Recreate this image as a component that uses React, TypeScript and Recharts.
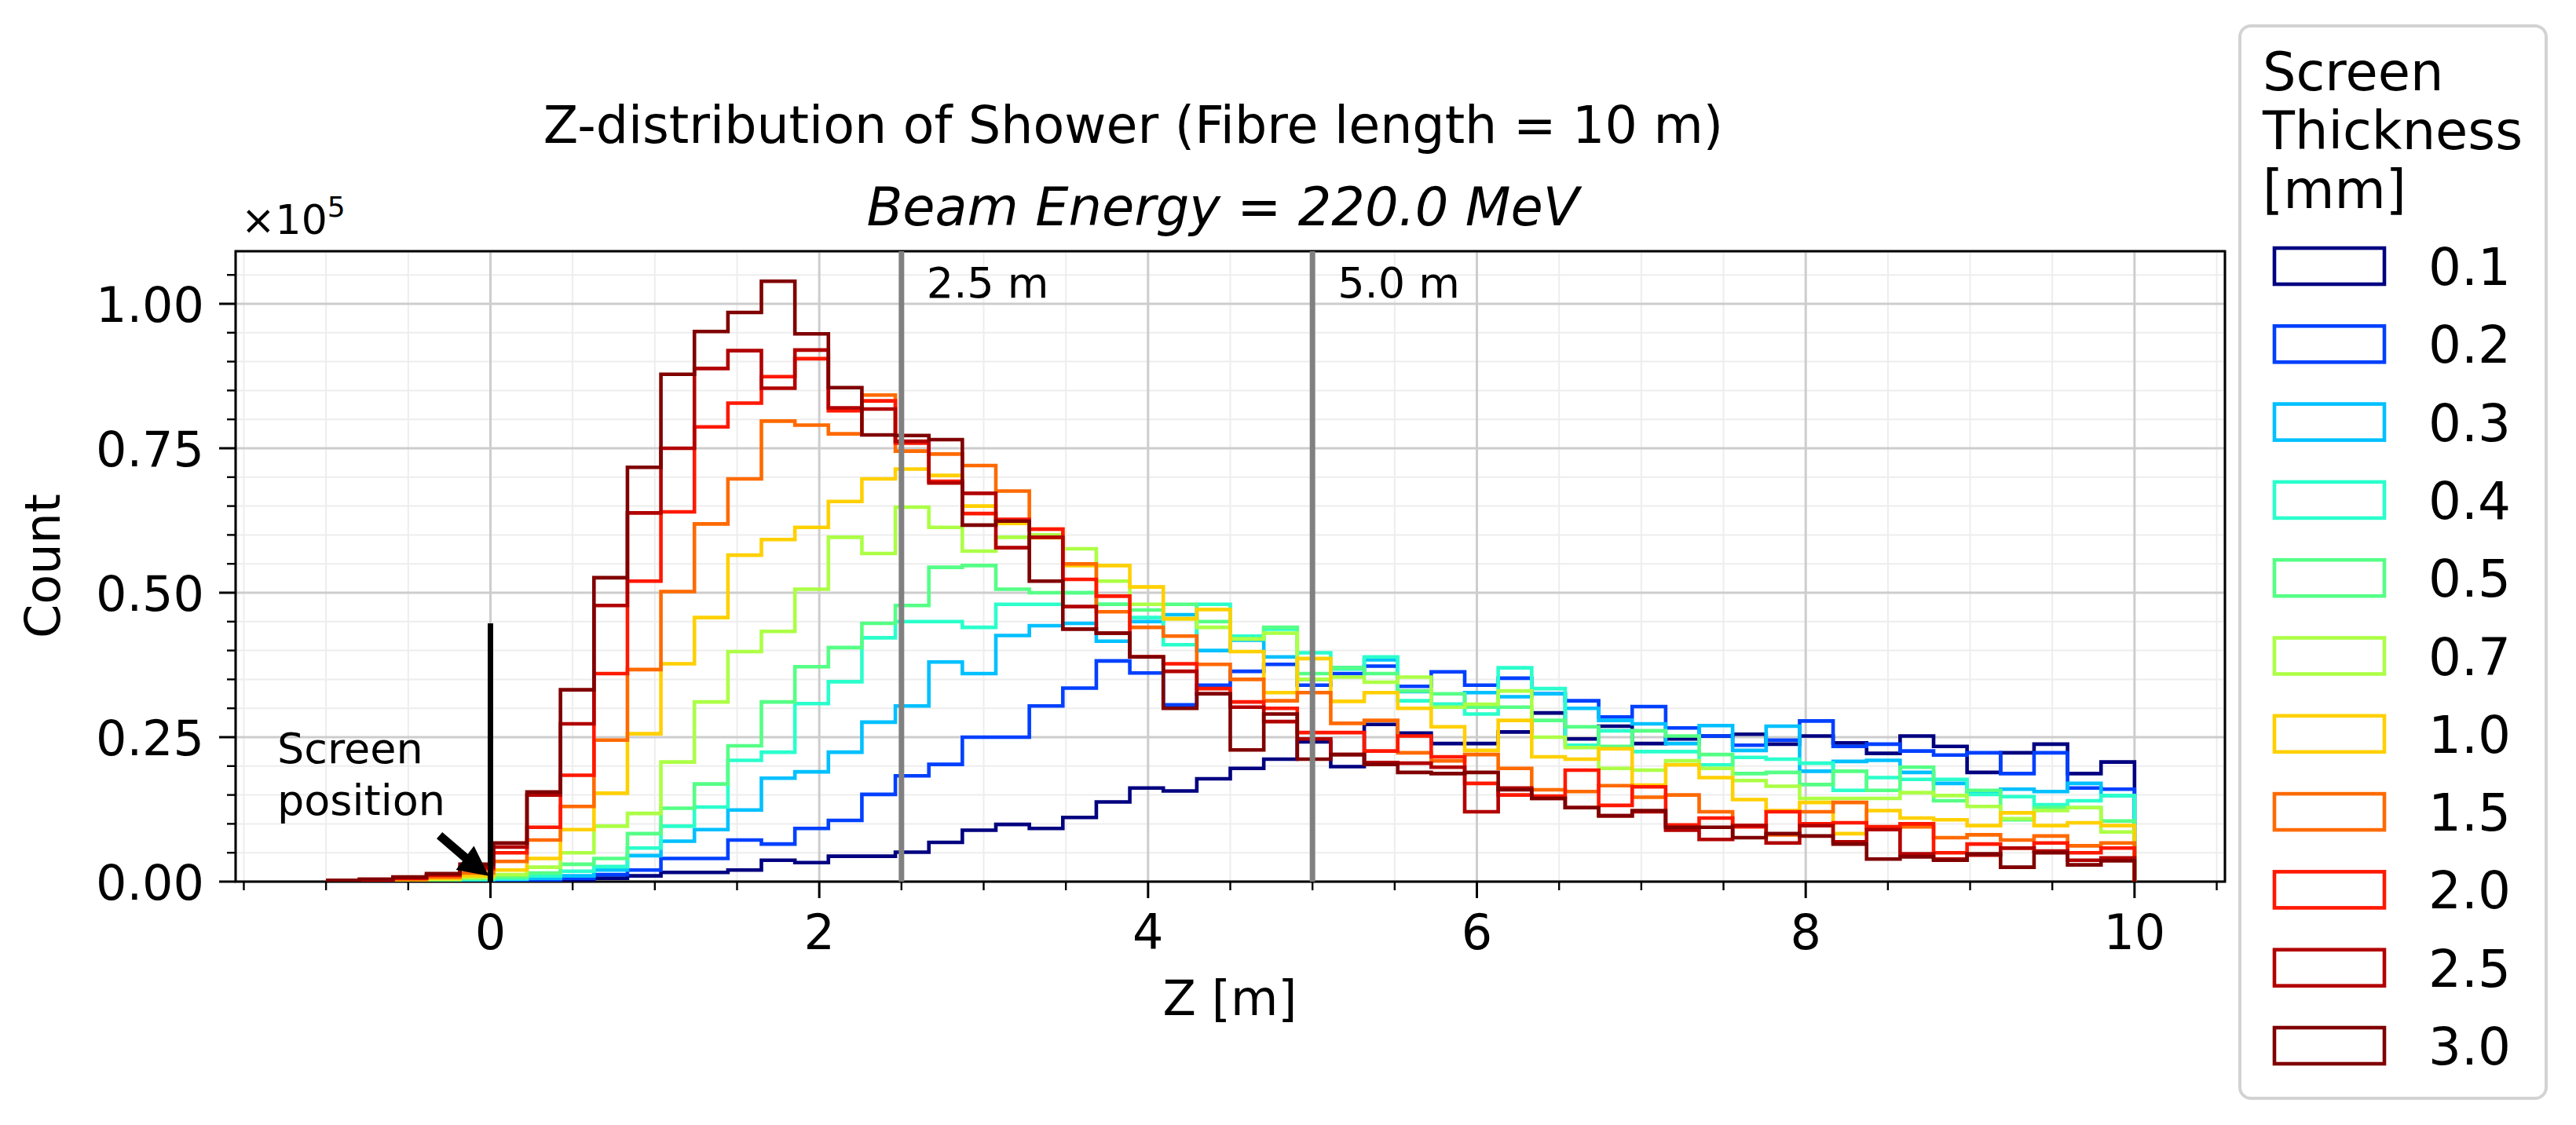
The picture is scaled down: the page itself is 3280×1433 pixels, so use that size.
import React from 'react';
import {
  LineChart,
  Line,
  XAxis,
  YAxis,
  CartesianGrid,
  ReferenceLine,
  ReferenceArea,
  ReferenceDot,
} from 'recharts';

const FONT = '"DejaVu Sans", "Liberation Sans", sans-serif';

// histogram binning: 54 equal bins between -1 m and 10 m
const BIN_START = -1;
const BIN_END = 10;
const BIN_COUNT = 54;

const X_DOMAIN: [number, number] = [-1.55, 10.55];
const Y_MAX = 1.091;

const X_MAJOR = [0, 2, 4, 6, 8, 10];
const X_ALL = [-1.5, -1, -0.5, 0, 0.5, 1, 1.5, 2, 2.5, 3, 3.5, 4, 4.5, 5, 5.5, 6, 6.5, 7, 7.5, 8, 8.5, 9, 9.5, 10, 10.5];
const Y_MAJOR = [0, 0.25, 0.5, 0.75, 1.0];
const Y_ALL = [0, 0.05, 0.1, 0.15, 0.2, 0.25, 0.3, 0.35, 0.4, 0.45, 0.5, 0.55, 0.6, 0.65, 0.7, 0.75, 0.8, 0.85, 0.9, 0.95, 1.0, 1.05];

// screen thickness [mm] and colours (jet-like)
const THICKNESS = ['0.1', '0.2', '0.3', '0.4', '0.5', '0.7', '1.0', '1.5', '2.0', '2.5', '3.0'];
const COLORS = ['#000080', '#0040ff', '#00c0ff', '#2affcc', '#55ff85', '#acff45', '#ffd000', '#ff6a00', '#ff1800', '#b20000', '#800000'];

// counts per bin, in units of 1e5
const t01 = [0, 0, 0, 0, 0.001, 0.001, 0.002, 0.003, 0.006, 0.01,
  0.016, 0.016, 0.02, 0.037, 0.033, 0.044, 0.044, 0.051, 0.068, 0.089,
  0.099, 0.092, 0.111, 0.138, 0.162, 0.157, 0.178, 0.196, 0.212, 0.242,
  0.199, 0.272, 0.257, 0.239, 0.239, 0.259, 0.292, 0.247, 0.269, 0.239,
  0.247, 0.252, 0.255, 0.238, 0.252, 0.24, 0.222, 0.252, 0.234, 0.189,
  0.223, 0.238, 0.187, 0.207];
const t02 = [0, 0, 0, 0.001, 0.002, 0.002, 0.003, 0.006, 0.012, 0.02,
  0.04, 0.04, 0.072, 0.065, 0.092, 0.106, 0.151, 0.183, 0.203, 0.25,
  0.25, 0.304, 0.335, 0.382, 0.361, 0.306, 0.34, 0.364, 0.376, 0.34,
  0.36, 0.373, 0.338, 0.363, 0.34, 0.352, 0.325, 0.313, 0.285, 0.303,
  0.266, 0.252, 0.236, 0.245, 0.278, 0.234, 0.238, 0.226, 0.219, 0.223,
  0.187, 0.223, 0.162, 0.16];
const t03 = [0, 0, 0, 0.001, 0.003, 0.004, 0.006, 0.01, 0.02, 0.045,
  0.07, 0.09, 0.124, 0.179, 0.19, 0.224, 0.276, 0.304, 0.38, 0.36,
  0.426, 0.443, 0.447, 0.416, 0.45, 0.462, 0.4, 0.418, 0.389, 0.35,
  0.37, 0.384, 0.329, 0.307, 0.327, 0.32, 0.325, 0.3, 0.279, 0.273,
  0.239, 0.27, 0.227, 0.269, 0.191, 0.208, 0.21, 0.189, 0.17, 0.156,
  0.16, 0.156, 0.17, 0.149];
const t04 = [0, 0, 0.001, 0.002, 0.004, 0.005, 0.01, 0.018, 0.026, 0.058,
  0.096, 0.129, 0.21, 0.224, 0.308, 0.346, 0.422, 0.45, 0.45, 0.44,
  0.48, 0.48, 0.5, 0.48, 0.457, 0.41, 0.48, 0.425, 0.437, 0.396,
  0.368, 0.389, 0.313, 0.307, 0.29, 0.37, 0.334, 0.236, 0.261, 0.225,
  0.225, 0.202, 0.215, 0.212, 0.205, 0.158, 0.18, 0.177, 0.177, 0.151,
  0.147, 0.133, 0.14, 0.149];
const t05 = [0, 0, 0.001, 0.003, 0.005, 0.008, 0.015, 0.03, 0.04, 0.083,
  0.127, 0.169, 0.235, 0.311, 0.372, 0.405, 0.447, 0.478, 0.544, 0.547,
  0.506, 0.5, 0.5, 0.48, 0.47, 0.48, 0.45, 0.42, 0.44, 0.36,
  0.37, 0.36, 0.33, 0.325, 0.302, 0.302, 0.279, 0.268, 0.234, 0.261,
  0.252, 0.22, 0.187, 0.189, 0.168, 0.191, 0.158, 0.198, 0.14, 0.158,
  0.107, 0.128, 0.128, 0.105];
const t07 = [0, 0.001, 0.002, 0.004, 0.007, 0.012, 0.025, 0.05, 0.096, 0.118,
  0.207, 0.311, 0.398, 0.433, 0.506, 0.596, 0.568, 0.648, 0.613, 0.572,
  0.596, 0.6, 0.576, 0.52, 0.48, 0.455, 0.44, 0.42, 0.43, 0.35,
  0.354, 0.345, 0.354, 0.302, 0.307, 0.33, 0.25, 0.232, 0.196, 0.193,
  0.209, 0.196, 0.175, 0.165, 0.144, 0.144, 0.144, 0.154, 0.149, 0.13,
  0.109, 0.123, 0.128, 0.086];
const t10 = [0, 0.001, 0.003, 0.005, 0.01, 0.02, 0.04, 0.09, 0.153, 0.256,
  0.377, 0.457, 0.565, 0.592, 0.613, 0.658, 0.697, 0.714, 0.703, 0.65,
  0.62, 0.595, 0.547, 0.547, 0.51, 0.455, 0.471, 0.398, 0.327, 0.386,
  0.312, 0.327, 0.3, 0.268, 0.227, 0.279, 0.216, 0.212, 0.23, 0.167,
  0.202, 0.18, 0.142, 0.123, 0.137, 0.083, 0.123, 0.11, 0.107, 0.097,
  0.119, 0.097, 0.102, 0.097];
const t15 = [0.001, 0.002, 0.004, 0.008, 0.015, 0.035, 0.072, 0.13, 0.245, 0.367,
  0.502, 0.619, 0.697, 0.797, 0.79, 0.775, 0.842, 0.745, 0.74, 0.72,
  0.676, 0.61, 0.55, 0.467, 0.44, 0.425, 0.376, 0.35, 0.313, 0.327,
  0.274, 0.279, 0.223, 0.209, 0.22, 0.196, 0.159, 0.156, 0.166, 0.146,
  0.15, 0.121, 0.097, 0.081, 0.121, 0.137, 0.09, 0.095, 0.076, 0.081,
  0.072, 0.079, 0.062, 0.067];
const t20 = [0.001, 0.003, 0.006, 0.011, 0.022, 0.05, 0.094, 0.184, 0.36, 0.52,
  0.64, 0.787, 0.828, 0.874, 0.905, 0.815, 0.832, 0.759, 0.693, 0.637,
  0.627, 0.61, 0.523, 0.494, 0.389, 0.377, 0.334, 0.311, 0.3, 0.258,
  0.258, 0.226, 0.252, 0.216, 0.17, 0.15, 0.148, 0.193, 0.132, 0.164,
  0.098, 0.11, 0.095, 0.121, 0.1, 0.102, 0.095, 0.1, 0.05, 0.065,
  0.058, 0.067, 0.05, 0.058];
const t25 = [0.002, 0.004, 0.007, 0.012, 0.025, 0.06, 0.15, 0.273, 0.478, 0.638,
  0.75, 0.888, 0.919, 0.854, 0.92, 0.82, 0.818, 0.762, 0.69, 0.672,
  0.578, 0.596, 0.476, 0.43, 0.389, 0.364, 0.325, 0.302, 0.277, 0.247,
  0.22, 0.206, 0.205, 0.198, 0.121, 0.162, 0.144, 0.128, 0.114, 0.121,
  0.089, 0.073, 0.097, 0.067, 0.097, 0.069, 0.09, 0.048, 0.039, 0.046,
  0.058, 0.053, 0.037, 0.041];
const t30 = [0.002, 0.004, 0.008, 0.014, 0.03, 0.067, 0.155, 0.332, 0.526, 0.717,
  0.878, 0.952, 0.985, 1.039, 0.948, 0.855, 0.773, 0.772, 0.765, 0.617,
  0.624, 0.52, 0.437, 0.43, 0.389, 0.3, 0.325, 0.228, 0.29, 0.212,
  0.22, 0.203, 0.189, 0.187, 0.189, 0.159, 0.144, 0.128, 0.114, 0.123,
  0.094, 0.094, 0.076, 0.083, 0.079, 0.065, 0.039, 0.043, 0.037, 0.048,
  0.025, 0.05, 0.029, 0.036];

const COUNTS = [t01, t02, t03, t04, t05, t07, t10, t15, t20, t25, t30];

const SERIES = THICKNESS.map((name, i) => ({
  name,
  key: 'th' + i,
  color: COLORS[i],
  values: COUNTS[i],
}));

// one row per bin edge; step line holds each bin value until the next edge
const rows: any[] = [];
for (let k = 0; k <= BIN_COUNT; k++) {
  const row: any = { z: BIN_START + ((BIN_END - BIN_START) * k) / BIN_COUNT };
  SERIES.forEach((s) => {
    row[s.key] = k < BIN_COUNT ? s.values[k] : 0;
  });
  rows.push(row);
}

const isIn = (list: number[], v: number) => list.some((m) => Math.abs(m - v) < 1e-9);

function XTick(props: any) {
  const { x, y, payload } = props;
  const major = isIn(X_MAJOR, payload.value);
  return (
    <g>
      <line x1={x} x2={x} y1={y} y2={y + (major ? 21 : 11)} stroke="#000" strokeWidth={major ? 3 : 2.4} />
      {major && (
        <text x={x} y={y + 86} textAnchor="middle" fontSize={62} fontFamily={FONT} fill="#000">
          {String(payload.value)}
        </text>
      )}
    </g>
  );
}

function YTick(props: any) {
  const { x, y, payload } = props;
  const major = isIn(Y_MAJOR, payload.value);
  return (
    <g>
      <line x1={x - (major ? 21 : 11)} x2={x} y1={y} y2={y} stroke="#000" strokeWidth={major ? 3 : 2.4} />
      {major && (
        <text x={x - 40} y={y + 23} textAnchor="end" fontSize={62} fontFamily={FONT} fill="#000">
          {payload.value.toFixed(2)}
        </text>
      )}
    </g>
  );
}

const lineLabel = (text: string) => (props: any) => {
  const vb = props.viewBox || { x: 0, y: 0 };
  return (
    <text x={vb.x + 32} y={vb.y + 59} fontSize={54} fontFamily={FONT} fill="#000">
      {text}
    </text>
  );
};

function ArrowHead(props: any) {
  const { cx, cy } = props;
  if (cx == null || cy == null) return null;
  const a = (37 * Math.PI) / 180;
  const len = 38;
  const half = 19;
  const bx = cx - len * Math.cos(a);
  const by = cy - len * Math.sin(a);
  const px = -Math.sin(a) * half;
  const py = Math.cos(a) * half;
  return <polygon points={`${cx},${cy} ${bx + px},${by + py} ${bx - px},${by - py}`} fill="#000" />;
}

function LegendBox() {
  return (
    <g fontFamily={FONT} fill="#000">
      <rect x={2852} y={33} width={390} height={1366} rx={14} fill="#fff" stroke="#d3d3d3" strokeWidth={4} />
      <text x={2881} y={115} fontSize={67}>Screen</text>
      <text x={2881} y={190} fontSize={67}>Thickness</text>
      <text x={2881} y={265} fontSize={67}>[mm]</text>
      {SERIES.map((s, i) => {
        const cy = 339 + 99.3 * i;
        return (
          <g key={s.key}>
            <rect x={2896} y={cy - 23} width={140} height={46} fill="none" stroke={s.color} strokeWidth={4.6} />
            <text x={3092} y={cy + 24} fontSize={66}>{s.name}</text>
          </g>
        );
      })}
    </g>
  );
}

export default function App() {
  return (
    <div style={{ position: 'absolute', left: 0, top: 0, width: 3280, height: 1433, background: '#fff' }}>
      <LineChart width={3280} height={1433} data={rows} margin={{ top: 320, right: 447, bottom: 210, left: 0 }}>
        <XAxis xAxisId="xmaj" type="number" dataKey="z" domain={X_DOMAIN} ticks={X_MAJOR} allowDataOverflow hide />
        <YAxis yAxisId="ymaj" type="number" domain={[0, Y_MAX]} ticks={Y_MAJOR} allowDataOverflow hide />
        <CartesianGrid xAxisId="x" yAxisId="y" stroke="#ededed" strokeWidth={2} />
        <CartesianGrid xAxisId="xmaj" yAxisId="ymaj" stroke="#cdcdcd" strokeWidth={3} />
        <XAxis
          xAxisId="x"
          type="number"
          dataKey="z"
          domain={X_DOMAIN}
          ticks={X_ALL}
          interval={0}
          allowDataOverflow
          height={100}
          axisLine={false}
          tickLine={false}
          tickSize={0}
          tickMargin={0}
          tick={<XTick />}
        />
        <YAxis
          yAxisId="y"
          type="number"
          domain={[0, Y_MAX]}
          ticks={Y_ALL}
          interval={0}
          allowDataOverflow
          width={300}
          axisLine={false}
          tickLine={false}
          tickSize={0}
          tickMargin={0}
          tick={<YTick />}
        />
        {SERIES.map((s) => (
          <Line
            key={s.key}
            xAxisId="x"
            yAxisId="y"
            dataKey={s.key}
            name={s.name}
            type="stepAfter"
            stroke={s.color}
            strokeWidth={4.6}
            dot={false}
            activeDot={false}
            isAnimationActive={false}
          />
        ))}
        <ReferenceLine xAxisId="x" yAxisId="y" x={2.5} stroke="#808080" strokeWidth={7} label={lineLabel('2.5 m')} />
        <ReferenceLine xAxisId="x" yAxisId="y" x={5.0} stroke="#808080" strokeWidth={7} label={lineLabel('5.0 m')} />
        <ReferenceLine
          xAxisId="x"
          yAxisId="y"
          segment={[{ x: 0, y: 0 }, { x: 0, y: 0.447 }]}
          stroke="#000"
          strokeWidth={7}
        />
        <ReferenceLine
          xAxisId="x"
          yAxisId="y"
          segment={[{ x: -0.31, y: 0.08 }, { x: -0.13, y: 0.036 }]}
          stroke="#000"
          strokeWidth={11}
        />
        <ReferenceDot xAxisId="x" yAxisId="y" x={-0.01} y={0.01} r={1} shape={ArrowHead} />
        <ReferenceArea
          xAxisId="x"
          yAxisId="y"
          x1={X_DOMAIN[0]}
          x2={X_DOMAIN[1]}
          y1={0}
          y2={Y_MAX}
          fill="none"
          fillOpacity={0}
          stroke="#000"
          strokeWidth={3}
          ifOverflow="visible"
        />
      </LineChart>
      <svg
        width={3280}
        height={1433}
        style={{ position: 'absolute', left: 0, top: 0, pointerEvents: 'none' }}
      >
        <text x={1443} y={182} textAnchor="middle" fontSize={65} fontFamily={FONT} fill="#000">
          Z-distribution of Shower (Fibre length = 10 m)
        </text>
        <text x={1557} y={287} textAnchor="middle" fontSize={67} fontStyle="italic" fontFamily={FONT} fill="#000">
          Beam Energy = 220.0 MeV
        </text>
        <text x={307} y={298} fontSize={52} fontFamily={FONT} fill="#000">
          ×10<tspan fontSize={36} dy={-22}>5</tspan>
        </text>
        <text x={76} y={721} transform="rotate(-90 76 721)" textAnchor="middle" fontSize={62} fontFamily={FONT} fill="#000">
          Count
        </text>
        <text x={1566} y={1293} textAnchor="middle" fontSize={62} fontFamily={FONT} fill="#000">
          Z [m]
        </text>
        <text x={353} y={972} fontSize={54} fontFamily={FONT} fill="#000">Screen</text>
        <text x={353} y={1038} fontSize={54} fontFamily={FONT} fill="#000">position</text>
        <LegendBox />
      </svg>
    </div>
  );
}
